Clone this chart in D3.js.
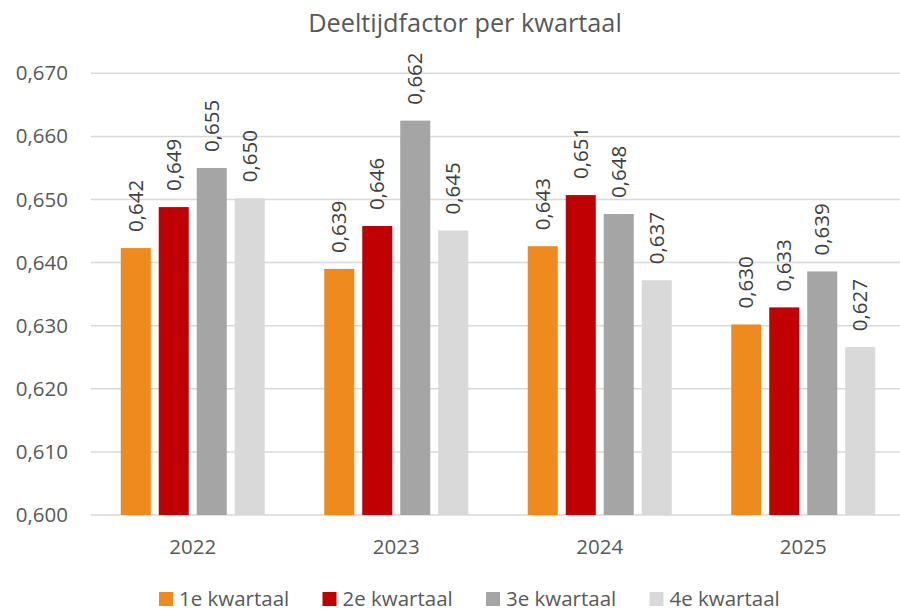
<!DOCTYPE html>
<html>
<head>
<meta charset="utf-8">
<script src="https://cdn.jsdelivr.net/npm/d3@7"></script>
<style>
  body { margin: 0; background: #fff; }
  svg { display: block; font-family: "Open Sans", sans-serif; }
</style>
</head>
<body>
<svg id="chart" width="900" height="611"></svg>
<script>
// data
var years = ["2022", "2023", "2024", "2025"];
var quarters = ["1e kwartaal", "2e kwartaal", "3e kwartaal", "4e kwartaal"];
var q1 = [0.6423, 0.6390, 0.6426, 0.6302];
var q2 = [0.6488, 0.6458, 0.6507, 0.6329];
var q3 = [0.6550, 0.6625, 0.6477, 0.6386];
var q4 = [0.6502, 0.6451, 0.6372, 0.6266];
var yTicks = [0.600, 0.610, 0.620, 0.630, 0.640, 0.650, 0.660, 0.670];
var colors = ["#EF8A1F", "#C00000", "#A5A5A5", "#D9D9D9"];

var series = [q1, q2, q3, q4];

var nl = d3.formatLocale({decimal: ",", thousands: ".", grouping: [3], currency: ["€", ""]});
var fmt = nl.format(".3f");

var svg = d3.select("#chart");
var plotLeft = 91, plotRight = 905, plotTop = 73.3, plotBottom = 515;

var x0 = d3.scaleBand().domain(years).range([plotLeft, plotRight]).paddingInner(0.2924).paddingOuter(0.1462);
var x1 = d3.scaleBand().domain(d3.range(4)).range([0, x0.bandwidth()]).paddingInner(0.21).paddingOuter(0);
var y = d3.scaleLinear().domain([0.6, 0.67]).range([plotBottom, plotTop]);

// title
svg.append("text")
  .attr("x", 465).attr("y", 32)
  .attr("text-anchor", "middle")
  .attr("font-size", 25.3)
  .attr("fill", "#595959")
  .text("Deeltijdfactor per kwartaal");

// gridlines
svg.append("g").selectAll("line")
  .data(yTicks)
  .enter().append("line")
  .attr("x1", plotLeft).attr("x2", plotRight)
  .attr("y1", function(d){ return y(d); })
  .attr("y2", function(d){ return y(d); })
  .attr("stroke", "#D9D9D9")
  .attr("stroke-width", 1.5);

// y axis labels
var yAxis = d3.axisLeft(y).tickValues(yTicks).tickFormat(fmt).tickSize(0).tickPadding(0);
var ya = svg.append("g").attr("transform", "translate(68,0)").call(yAxis);
ya.select(".domain").remove();
ya.selectAll("text").attr("font-size", 20.5).attr("fill", "#595959").attr("font-family", "Open Sans");

// x axis labels
var xAxis = d3.axisBottom(x0).tickSize(0).tickPadding(0);
var xa = svg.append("g").attr("transform", "translate(0," + plotBottom + ")").call(xAxis);
xa.select(".domain").remove();
xa.selectAll("text").attr("dy", 0).attr("y", 39).attr("font-size", 20.5).attr("fill", "#595959").attr("font-family", "Open Sans");

// bars
var groups = svg.append("g").selectAll("g")
  .data(years)
  .enter().append("g")
  .attr("transform", function(d){ return "translate(" + x0(d) + ",0)"; });

groups.selectAll("rect")
  .data(function(d, i){ return series.map(function(s, k){ return {k: k, v: s[i]}; }); })
  .enter().append("rect")
  .attr("x", function(d){ return x1(d.k); })
  .attr("width", x1.bandwidth())
  .attr("y", function(d){ return y(d.v); })
  .attr("height", function(d){ return plotBottom - y(d.v); })
  .attr("fill", function(d){ return colors[d.k]; });

groups.selectAll("text.lbl")
  .data(function(d, i){ return series.map(function(s, k){ return {k: k, v: s[i]}; }); })
  .enter().append("text")
  .attr("class", "lbl")
  .attr("transform", function(d){
    return "translate(" + (x1(d.k) + x1.bandwidth() / 2) + "," + (y(d.v) - 16) + ") rotate(-90)";
  })
  .attr("dy", "0.35em")
  .attr("font-size", 20.5)
  .attr("fill", "#404040")
  .text(function(d){ return fmt(d.v); });

// legend
var legend = svg.append("g").selectAll("g")
  .data(quarters)
  .enter().append("g")
  .attr("transform", function(d, i){ return "translate(" + (159 + i * 163.5) + ",592)"; });
legend.append("rect").attr("width", 14).attr("height", 14)
  .attr("fill", function(d, i){ return colors[i]; });
legend.append("text").attr("x", 20).attr("y", 13.5)
  .attr("font-size", 20.5).attr("fill", "#595959")
  .text(function(d){ return d; });
</script>
</body>
</html>
